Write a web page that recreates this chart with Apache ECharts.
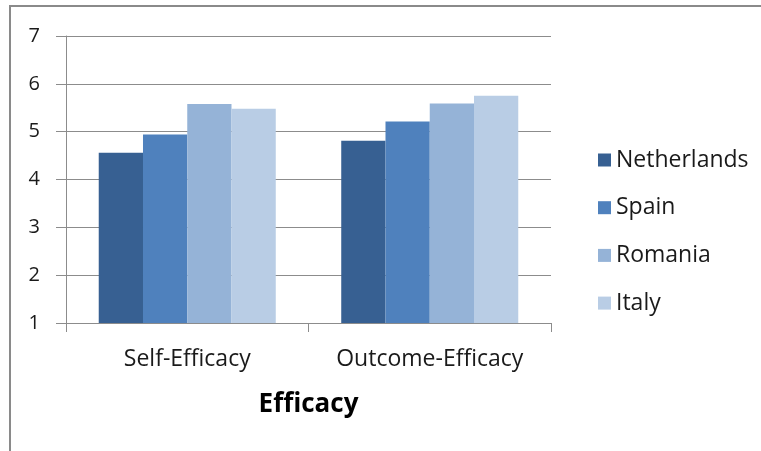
<!DOCTYPE html>
<html>
<head>
<meta charset="utf-8">
<style>
  html, body { margin: 0; padding: 0; background: #fff; }
  #chart { width: 761px; height: 451px; }
</style>
<script src="https://cdn.jsdelivr.net/npm/echarts@6/dist/echarts.min.js"></script>
</head>
<body>
<div id="chart"></div>
<script>
// Mean efficacy scores by country
const categories = ['Self-Efficacy', 'Outcome-Efficacy'];
const countries = ['Netherlands', 'Spain', 'Romania', 'Italy'];
const netherlands = [4.56, 4.81];
const spain = [4.94, 5.21];
const romania = [5.58, 5.59];
const italy = [5.48, 5.75];
const yTicks = [1, 2, 3, 4, 5, 6, 7];

const colors = ['#376092', '#4F81BD', '#95B3D7', '#B9CDE5'];
const values = [netherlands, spain, romania, italy];
const FONT = '"Open Sans", sans-serif';

const chart = echarts.init(document.getElementById('chart'), null, { renderer: 'canvas' });

chart.setOption({
  animation: false,
  backgroundColor: '#ffffff',
  textStyle: { fontFamily: FONT },
  color: colors,
  grid: { left: 66, right: 210, top: 36, bottom: 128 },
  legend: {
    orient: 'vertical',
    left: 593,
    top: 142,
    itemWidth: 13,
    itemHeight: 13,
    itemGap: 21.7,
    icon: 'rect',
    data: countries,
    textStyle: { fontFamily: FONT, fontSize: 23, color: '#1a1a1a', lineHeight: 26 }
  },
  xAxis: {
    type: 'category',
    data: categories,
    name: 'Efficacy',
    nameLocation: 'middle',
    nameGap: 69,
    nameTextStyle: { fontFamily: FONT, fontSize: 26, fontWeight: 'bold', color: '#000' },
    axisLine: { lineStyle: { color: '#8c8c8c', width: 1 } },
    axisTick: { show: true, length: 9, lineStyle: { color: '#8c8c8c' } },
    axisLabel: { interval: 0, hideOverlap: false, fontFamily: FONT, fontSize: 23, color: '#1a1a1a', margin: 25 }
  },
  yAxis: {
    type: 'value',
    min: yTicks[0],
    max: yTicks[yTicks.length - 1],
    interval: 1,
    axisLine: { show: true, lineStyle: { color: '#8c8c8c', width: 1 } },
    axisTick: { show: true, length: 10, lineStyle: { color: '#8c8c8c' } },
    splitLine: { lineStyle: { color: '#8c8c8c', width: 1 } },
    axisLabel: { fontFamily: FONT, fontSize: 20, color: '#1a1a1a', margin: 26 }
  },
  series: countries.map((name, i) => ({
    name: name,
    type: 'bar',
    data: values[i],
    barGap: '0%',
    barCategoryGap: '27%',
    itemStyle: { color: colors[i] }
  })),
  graphic: [
    // frame: top and left edges
    { type: 'line', shape: { x1: 9, y1: 6, x2: 761, y2: 6 }, style: { stroke: '#8a8a8a', lineWidth: 2 } },
    { type: 'line', shape: { x1: 10, y1: 5, x2: 10, y2: 451 }, style: { stroke: '#8a8a8a', lineWidth: 2 } }
  ]
});
</script>
</body>
</html>
